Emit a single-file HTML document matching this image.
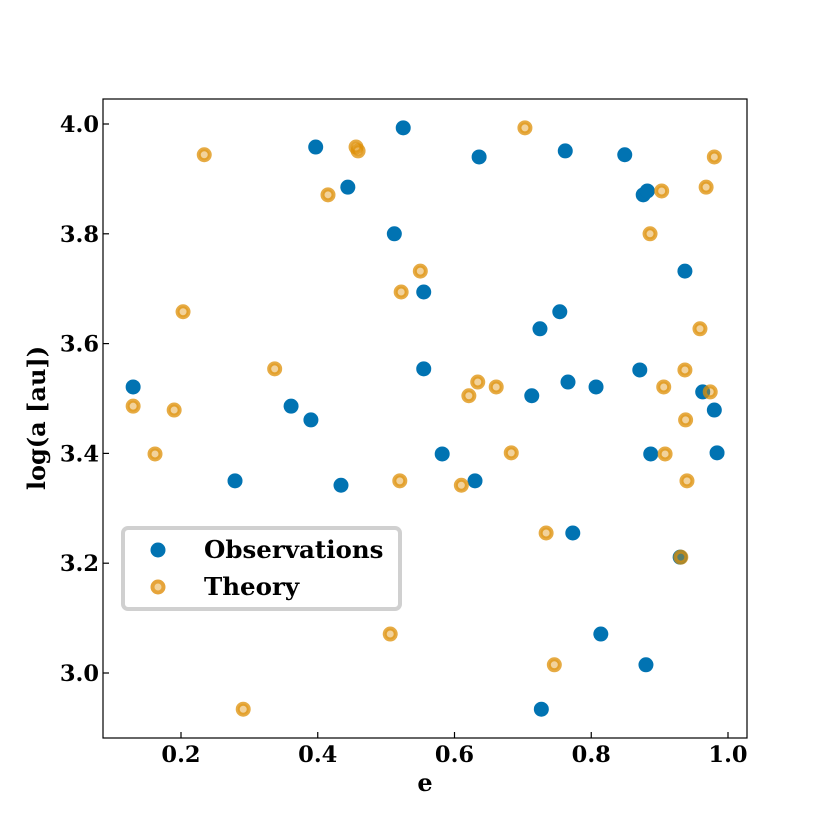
<!DOCTYPE html>
<html><head><meta charset="utf-8"><style>
body{margin:0;background:#fff}
text{font-family:"DejaVu Serif","Liberation Serif",serif;font-weight:bold;fill:#000}
</style></head><body>
<svg id="chart" width="830" height="830" xmlns="http://www.w3.org/2000/svg">
<rect width="830" height="830" fill="#fff"/>
<g id="marks"></g>
<rect x="103" y="99" width="644" height="639" fill="none" stroke="#000" stroke-width="1.2"/>
<g id="axes"></g>
<text x="425" y="791" font-size="24" text-anchor="middle">e</text>
<text transform="translate(45,418) rotate(-90)" font-size="24" text-anchor="middle">log(a [au])</text>
<g>
<rect x="123" y="528" width="277" height="81" rx="5" fill="#fff" fill-opacity="0.8" stroke="#d0d0d0" stroke-width="4"/>
<circle cx="158" cy="550" r="7.5" fill="#0173B2"/>
<text x="204" y="558" font-size="24.5">Observations</text>
<circle cx="158" cy="587" r="5.5" fill="#F3D39B" stroke="#E6A43A" stroke-width="4"/>
<text x="204" y="595" font-size="24.5">Theory</text>
</g>
</svg>
<script>
const obsE=[0.130,0.279,0.361,0.390,0.397,0.434,0.444,0.512,0.525,0.555,0.555,0.582,0.630,0.636,0.713,0.725,0.727,0.754,0.762,0.766,0.773,0.807,0.814,0.849,0.871,0.876,0.882,0.880,0.887,0.937,0.930,0.963,0.980,0.984];
const obsA=[3.521,3.350,3.486,3.461,3.958,3.342,3.885,3.800,3.993,3.694,3.554,3.399,3.350,3.940,3.505,3.627,2.934,3.658,3.951,3.530,3.255,3.521,3.071,3.944,3.552,3.871,3.878,3.015,3.399,3.732,3.211,3.512,3.479,3.401];
const thE=[0.130,0.162,0.190,0.203,0.234,0.291,0.337,0.415,0.456,0.459,0.506,0.520,0.522,0.550,0.610,0.621,0.634,0.661,0.683,0.703,0.734,0.746,0.886,0.903,0.906,0.908,0.931,0.937,0.938,0.940,0.959,0.968,0.974,0.980];
const thA=[3.486,3.399,3.479,3.658,3.944,2.934,3.554,3.871,3.958,3.951,3.071,3.350,3.694,3.732,3.342,3.505,3.530,3.521,3.401,3.993,3.255,3.015,3.800,3.878,3.521,3.399,3.211,3.552,3.461,3.350,3.627,3.885,3.512,3.940];
const xTicks=[0.2,0.4,0.6,0.8,1.0];
const xTickLabels=["0.2","0.4","0.6","0.8","1.0"];
const yTicks=[3.0,3.2,3.4,3.6,3.8,4.0];
const yTickLabels=["3.0","3.2","3.4","3.6","3.8","4.0"];
const NS="http://www.w3.org/2000/svg";
const xS=e=>181+(e-0.2)*683.75;
const yS=v=>673-(v-3)*549;
const marks=document.getElementById('marks');
obsE.forEach((e,i)=>{
  const c=document.createElementNS(NS,'circle');
  
  
  c.setAttribute('cx',xS(e));c.setAttribute('cy',yS(obsA[i]));c.setAttribute('r',7.5);
  c.setAttribute('fill','#0173B2');
  marks.appendChild(c);
});
thE.forEach((e,i)=>{
  const c=document.createElementNS(NS,'circle');
  
  
  c.setAttribute('cx',xS(e));c.setAttribute('cy',yS(thA[i]));c.setAttribute('r',5.5);
  c.setAttribute('fill','#DE8F05');c.setAttribute('fill-opacity','0.4');
  c.setAttribute('stroke','#DE8F05');c.setAttribute('stroke-opacity','0.75');
  c.setAttribute('stroke-width','4');
  marks.appendChild(c);
});
const axes=document.getElementById('axes');
xTicks.forEach((t,i)=>{
  const x=xS(t);
  const l=document.createElementNS(NS,'line');
  
  
  l.setAttribute('x1',x);l.setAttribute('x2',x);l.setAttribute('y1',738);l.setAttribute('y2',732);
  l.setAttribute('stroke','#000');l.setAttribute('stroke-width','1.2');
  axes.appendChild(l);
  const tx=document.createElementNS(NS,'text');
  
  
  tx.setAttribute('x',x);tx.setAttribute('y',762);tx.setAttribute('font-size','22.5');tx.setAttribute('text-anchor','middle');
  tx.textContent=xTickLabels[i];
  axes.appendChild(tx);
});
yTicks.forEach((t,i)=>{
  const y=yS(t);
  const l=document.createElementNS(NS,'line');
  
  
  l.setAttribute('x1',103);l.setAttribute('x2',109);l.setAttribute('y1',y);l.setAttribute('y2',y);
  l.setAttribute('stroke','#000');l.setAttribute('stroke-width','1.2');
  axes.appendChild(l);
  const tx=document.createElementNS(NS,'text');
  
  
  tx.setAttribute('x',99);tx.setAttribute('y',y+8);tx.setAttribute('font-size','22.5');tx.setAttribute('text-anchor','end');
  tx.textContent=yTickLabels[i];
  axes.appendChild(tx);
});
</script>
</body></html>
